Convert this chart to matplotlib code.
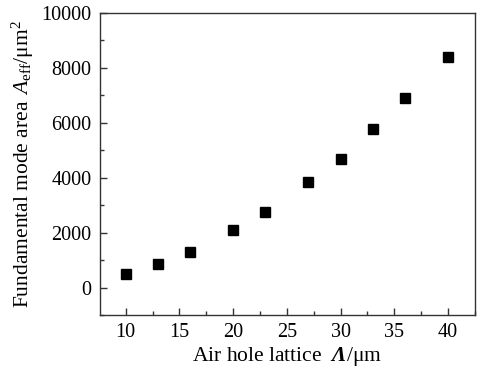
import matplotlib
matplotlib.use("Agg")
import matplotlib.pyplot as plt
from matplotlib.ticker import MultipleLocator

lattice = [10, 13, 16, 20, 23, 27, 30, 33, 36, 40]
area = [500, 870, 1300, 2080, 2760, 3860, 4690, 5790, 6910, 8380]
xticks = [10, 15, 20, 25, 30, 35, 40]
yticks = [0, 2000, 4000, 6000, 8000, 10000]

plt.rcParams['font.family'] = ['Liberation Serif', 'DejaVu Serif']
plt.rcParams['mathtext.fontset'] = 'custom'
plt.rcParams['mathtext.rm'] = 'Liberation Serif'
plt.rcParams['mathtext.it'] = 'Liberation Serif:italic'
plt.rcParams['mathtext.bf'] = 'Liberation Serif:bold:italic'

fig = plt.figure(figsize=(4.84, 3.77), dpi=100)
ax = fig.add_axes([0.2066, 0.1645, 0.7744, 0.801])
ax.plot(lattice, area, linestyle='none', marker='s', markersize=7.5, color='black')
ax.set_xlim(7.6, 42.5)
ax.set_ylim(-1000, 10000)
ax.set_xticks(xticks)
ax.set_yticks(yticks)
ax.xaxis.set_minor_locator(MultipleLocator(2.5))
ax.yaxis.set_minor_locator(MultipleLocator(1000))
ax.tick_params(which='both', direction='in', labelsize=14.5, color='#333333')
ax.tick_params(which='major', length=5, width=1, pad=6)
ax.tick_params(which='minor', length=3, width=1)
for s in ax.spines.values():
    s.set_color('#333333')
    s.set_linewidth(1.0)
ax.set_xlabel(r'Air hole lattice  $\mathbf{Λ}$/μm', fontsize=15.5, labelpad=2)
ax.set_ylabel(r'Fundamental mode area $\,A_{\rm eff}$/μm$^2$', fontsize=15.5, labelpad=4)
fig.savefig('out.png', dpi=100)
